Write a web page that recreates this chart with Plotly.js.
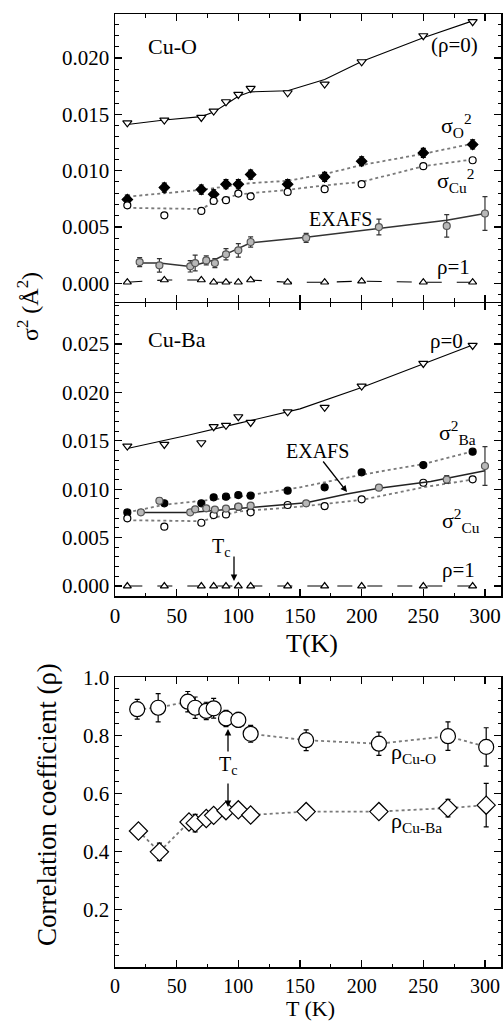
<!DOCTYPE html>
<html><head><meta charset="utf-8">
<script src="https://cdn.plot.ly/plotly-3.0.1.min.js"></script>
<style>html,body{margin:0;padding:0;background:#fff}#chart{width:503px;height:1021px}</style>
</head><body><div id="chart"></div>
<script>
// ---------- DATA ----------
// Temperatures (K) of the model points in both upper panels
const T_model = [10, 40, 70, 80, 90, 100, 110, 140, 170, 200, 250, 290];

// Cu-O panel
const cuo_rho0 = [0.01425, 0.01449, 0.01473, 0.01529, 0.01612, 0.01677, 0.0173, 0.01692, 0.01769, 0.01967, 0.02198, 0.02323];
const cuo_rho0_fitT = [10, 40, 70, 80, 90, 100, 110, 140, 170, 200, 250, 290];
const cuo_rho0_fit = [0.0141, 0.0145, 0.0148, 0.0152, 0.0159, 0.0166, 0.0170, 0.0171, 0.0181, 0.0197, 0.0218, 0.0233];
const cuo_sigO = [0.00744, 0.0085, 0.00833, 0.00791, 0.0088, 0.0088, 0.00966, 0.0088, 0.00945, 0.01084, 0.01158, 0.01233];
const cuo_sigO_err = [0.0004, 0.0004, 0.0004, 0.0004, 0.0004, 0.0004, 0.0004, 0.0004, 0.0004, 0.0004, 0.0004, 0.0004];
const cuo_sigO_fitT = [10, 70, 110, 140, 170, 200, 250, 290];
const cuo_sigO_fit = [0.0077, 0.0083, 0.0089, 0.0091, 0.0097, 0.0105, 0.0115, 0.0124];
const cuo_sigCu = [0.00693, 0.00604, 0.00643, 0.00732, 0.00738, 0.00797, 0.00773, 0.00812, 0.00836, 0.0088, 0.0104, 0.01093];
const cuo_sigCu_fitT = [10, 70, 80, 100, 110, 140, 170, 200, 250, 290];
const cuo_sigCu_fit = [0.0067, 0.0066, 0.0072, 0.0079, 0.0080, 0.0083, 0.0087, 0.0090, 0.0104, 0.0110];
const cuo_exafsT = [20, 36, 61, 65, 74, 81, 90, 100, 110, 155, 214, 269, 300];
const cuo_exafs = [0.00189, 0.0016, 0.00151, 0.0018, 0.00204, 0.0018, 0.00258, 0.00293, 0.00367, 0.00403, 0.005, 0.0051, 0.0062];
const cuo_exafs_err = [0.0004, 0.0006, 0.0005, 0.0007, 0.0004, 0.0004, 0.0005, 0.0006, 0.00045, 0.0004, 0.0007, 0.001, 0.0015];
const cuo_exafs_fitT = [20, 36, 61, 81, 90, 100, 110, 155, 214, 269, 300];
const cuo_exafs_fit = [0.0018, 0.0018, 0.0015, 0.0021, 0.0026, 0.0031, 0.0036, 0.0041, 0.0049, 0.0056, 0.0062];
const cuo_rho1 = [0.0001, 0.0003, 0.0003, 0.0001, 0.0001, 0.0001, 0.0003, 0.0001, 0.0001, 0.0002, 0.0001, 0.0001];

// Cu-Ba panel
const cuba_rho0 = [0.01446, 0.01463, 0.0148, 0.01646, 0.0166, 0.01749, 0.0169, 0.018, 0.01846, 0.02066, 0.023, 0.02486];
const cuba_rho0_fitT = [10, 60, 100, 150, 200, 250, 290];
const cuba_rho0_fit = [0.0142, 0.0156, 0.0168, 0.0183, 0.0205, 0.0229, 0.0249];
const cuba_sigBa = [0.0076, 0.00854, 0.00854, 0.00916, 0.00923, 0.0094, 0.00933, 0.00985, 0.0102, 0.01175, 0.0125, 0.01388];
const cuba_sigBa_fitT = [10, 40, 100, 150, 200, 250, 290];
const cuba_sigBa_fit = [0.0076, 0.0084, 0.0092, 0.0102, 0.0115, 0.0126, 0.0139];
const cuba_sigCu = [0.00699, 0.00613, 0.00654, 0.00733, 0.0074, 0.00819, 0.00761, 0.00837, 0.00826, 0.00896, 0.01067, 0.01102];
const cuba_sigCu_fitT = [10, 70, 100, 150, 200, 250, 290];
const cuba_sigCu_fit = [0.0068, 0.0067, 0.0077, 0.0082, 0.0089, 0.0102, 0.0110];
const cuba_exafsT = [21, 36, 61, 65, 74, 81, 90, 100, 110, 155, 214, 269, 300];
const cuba_exafs = [0.00761, 0.00881, 0.00761, 0.00792, 0.00803, 0.0079, 0.008, 0.0082, 0.0083, 0.00854, 0.01016, 0.011, 0.0124];
const cuba_exafs_err = [0.0002, 0.0003, 0.0002, 0.0002, 0.0002, 0.0002, 0.0002, 0.0002, 0.0002, 0.0002, 0.0002, 0.0004, 0.002];
const cuba_exafs_fitT = [21, 61, 100, 155, 188, 214, 256, 300];
const cuba_exafs_fit = [0.0076, 0.0076, 0.0080, 0.0086, 0.0095, 0.0101, 0.0108, 0.0119];
const cuba_rho1 = [0, 0, 0, 0, 0, 0, 0, 0, 0, 0, 0, 0];

// Correlation coefficient panel
const rhoCuO_T = [18, 35, 59, 65, 74, 80, 90, 100, 110, 155, 214, 270, 301];
const rhoCuO = [0.89, 0.895, 0.916, 0.895, 0.884, 0.893, 0.858, 0.853, 0.805, 0.783, 0.771, 0.797, 0.76];
const rhoCuO_err = [0.034, 0.049, 0.035, 0.037, 0.03, 0.034, 0.028, 0.026, 0.029, 0.036, 0.04, 0.049, 0.066];
const rhoCuBa_T = [19, 36, 60, 65, 74, 80, 90, 100, 110, 155, 214, 270, 301];
const rhoCuBa = [0.47, 0.398, 0.501, 0.497, 0.513, 0.524, 0.54, 0.543, 0.525, 0.537, 0.537, 0.549, 0.559];
const rhoCuBa_err = [0.02, 0.03, 0.02, 0.03, 0.015, 0.015, 0.012, 0.012, 0.012, 0.012, 0.012, 0.03, 0.075];

const xTickVals = [0, 50, 100, 150, 200, 250, 300];
const rhoTickVals = [0.2, 0.4, 0.6, 0.8, 1.0];

// ---------- STYLE ----------
const FONT = 'Liberation Serif, "Times New Roman", serif';
const BLACK = '#000';
const DOT = '#7a7a7a';

function ln(x, y, xa, ya, color, dash, width) {
  return {x, y, xaxis: xa, yaxis: ya, mode: 'lines', line: {color, dash, width}, hoverinfo: 'skip', showlegend: false};
}
function mk(x, y, xa, ya, symbol, size, fill, lineColor, err, errColor) {
  const t = {x, y, xaxis: xa, yaxis: ya, mode: 'markers', showlegend: false,
    marker: {symbol, size, color: fill, line: {color: lineColor, width: 1.2}}};
  if (err) t.error_y = {type: 'data', array: err, visible: true, color: errColor || BLACK, thickness: 1.2, width: 2.5};
  return t;
}

const traces = [
  // Cu-O
  ln(cuo_rho0_fitT, cuo_rho0_fit, 'x3', 'y', BLACK, 'solid', 1.1),
  mk(T_model, cuo_rho0, 'x3', 'y', 'triangle-down', 8, '#fff', BLACK),
  ln(cuo_sigO_fitT, cuo_sigO_fit, 'x3', 'y', DOT, 'dot', 1.8),
  mk(T_model, cuo_sigO, 'x3', 'y', 'diamond', 8, BLACK, BLACK, cuo_sigO_err),
  ln(cuo_sigCu_fitT, cuo_sigCu_fit, 'x3', 'y', DOT, 'dot', 1.8),
  mk(T_model, cuo_sigCu, 'x3', 'y', 'circle', 7, '#fff', BLACK),
  ln(cuo_exafs_fitT, cuo_exafs_fit, 'x3', 'y', '#333', 'solid', 1.5),
  mk(cuo_exafsT, cuo_exafs, 'x3', 'y', 'circle', 7, '#b8b8b8', '#555', cuo_exafs_err, '#333'),
  ln(T_model, cuo_rho1, 'x3', 'y', BLACK, 'longdash', 1.1),
  mk(T_model, cuo_rho1, 'x3', 'y', 'triangle-up', 7, '#fff', BLACK),
  // Cu-Ba
  ln(cuba_rho0_fitT, cuba_rho0_fit, 'x', 'y3', BLACK, 'solid', 1.1),
  mk(T_model, cuba_rho0, 'x', 'y3', 'triangle-down', 8, '#fff', BLACK),
  ln(cuba_sigBa_fitT, cuba_sigBa_fit, 'x', 'y3', DOT, 'dot', 1.8),
  mk(T_model, cuba_sigBa, 'x', 'y3', 'circle', 7, BLACK, BLACK),
  ln(cuba_sigCu_fitT, cuba_sigCu_fit, 'x', 'y3', DOT, 'dot', 1.8),
  mk(T_model, cuba_sigCu, 'x', 'y3', 'circle', 7, '#fff', BLACK),
  ln(cuba_exafs_fitT, cuba_exafs_fit, 'x', 'y3', '#222', 'solid', 1.5),
  mk(cuba_exafsT, cuba_exafs, 'x', 'y3', 'circle', 7, '#b8b8b8', '#555', cuba_exafs_err, '#333'),
  ln(T_model, cuba_rho1, 'x', 'y3', BLACK, 'longdash', 1.1),
  mk(T_model, cuba_rho1, 'x', 'y3', 'triangle-up', 7, '#fff', BLACK),
  // correlation
  ln(rhoCuO_T, rhoCuO, 'x2', 'y2', DOT, 'dot', 1.8),
  mk(rhoCuO_T, rhoCuO, 'x2', 'y2', 'circle', 15, '#fff', BLACK, rhoCuO_err),
  ln(rhoCuBa_T, rhoCuBa, 'x2', 'y2', DOT, 'dot', 1.8),
  mk(rhoCuBa_T, rhoCuBa, 'x2', 'y2', 'diamond', 14, '#fff', BLACK, rhoCuBa_err),
];

function minorAx(dtick) {
  return {ticks: 'inside', ticklen: 3.5, tickwidth: 1, tickcolor: BLACK, dtick, tick0: 0, showgrid: false};
}
function axisBase(extra) {
  return Object.assign({
    showline: true, linecolor: BLACK, linewidth: 1.5, mirror: 'ticks',
    ticks: 'inside', ticklen: 7, tickwidth: 1.2, tickcolor: BLACK,
    showgrid: false, zeroline: false,
    tickfont: {family: FONT, size: 21, color: BLACK}
  }, extra);
}

// pixel -> paper helpers (plot area: x 115..501, y 14..967)
const L = 115, R = 2, TOP = 14, B = 54, W = 503, H = 1021;
const PW = W - L - R, PH = H - TOP - B;
const px = x => (x - L) / PW;
const py = y => (H - B - y) / PH;

function txt(text, x, y, size, extra) {
  return Object.assign({text, xref: 'paper', yref: 'paper', x: px(x), y: py(y), showarrow: false,
    xanchor: 'center', yanchor: 'middle', borderpad: 0, font: {family: FONT, size, color: BLACK}}, extra || {});
}
function arrow(x, y, ax, ay) {
  return {text: '', xref: 'paper', yref: 'paper', x: px(x), y: py(y), showarrow: true,
    ax, ay, arrowhead: 2, arrowsize: 1, arrowwidth: 1.3, arrowcolor: BLACK};
}

const annotations = [
  txt('Cu-O', 172, 47, 22),
  txt('(ρ=0)', 454, 45, 21),
  txt('σ<sub>O</sub><sup>2</sup>', 456, 125, 22),
  txt('σ<sub>Cu</sub><sup>2</sup>', 456, 180, 22),
  txt('EXAFS', 340, 219, 20),
  txt('ρ=1', 453, 267, 21),
  txt('Cu-Ba', 177, 339, 22),
  txt('ρ=0', 446, 341, 21),
  txt('σ<sup>2</sup><sub>Ba</sub>', 457, 433, 22),
  txt('EXAFS', 317, 451, 20),
  arrow(347, 492, -25, -32),
  txt('σ<sup>2</sup><sub>Cu</sub>', 461, 520, 22),
  txt('ρ=1', 458, 570, 21),
  txt('T<sub>c</sub>', 221, 548, 20),
  arrow(234, 581, 0, -26),
  txt('T(K)', 312, 643, 26),
  txt('ρ<sub>Cu-O</sub>', 413, 753, 22),
  txt('ρ<sub>Cu-Ba</sub>', 416, 822, 22),
  txt('T<sub>c</sub>', 228, 765, 20),
  arrow(228, 729, 0, 24),
  arrow(228, 807, 0, -25),
  txt('T (K)', 310, 1008, 22),
  txt('σ<sup>2</sup> (Å<sup>2</sup>)', 28, 307, 24, {textangle: -90}),
  txt('Correlation coefficient (ρ)', 47, 805, 27, {textangle: -90}),
];

const layout = {
  width: W, height: H,
  margin: {l: L, r: R, t: TOP, b: B, pad: 0},
  paper_bgcolor: '#fff', plot_bgcolor: '#fff',
  showlegend: false,
  font: {family: FONT, color: BLACK},
  xaxis: axisBase({domain: [0, 1], range: [0, 313], anchor: 'y3', tickmode: 'array', tickvals: xTickVals, minor: minorAx(25)}),
  xaxis3: axisBase({domain: [0, 1], range: [0, 313], anchor: 'y', showticklabels: false, dtick: 50, tick0: 0, minor: minorAx(25)}),
  xaxis2: axisBase({domain: [0, 1], range: [0, 313], anchor: 'y2', tickmode: 'array', tickvals: xTickVals, minor: minorAx(25),
    tickfont: {family: FONT, size: 20, color: BLACK}}),
  yaxis: axisBase({domain: [py(301.5), 1], range: [-0.00161, 0.02391], anchor: 'x3', dtick: 0.005, tick0: 0, tickformat: '.3f', minor: minorAx(0.001)}),
  yaxis3: axisBase({domain: [py(596), py(303)], range: [-0.00103, 0.02924], anchor: 'x', dtick: 0.005, tick0: 0, tickformat: '.3f', minor: minorAx(0.001)}),
  yaxis2: axisBase({domain: [0, py(677)], range: [0.001, 1.001], anchor: 'x2', tickmode: 'array', tickvals: rhoTickVals, tickformat: '.1f', minor: minorAx(0.04)}),
  annotations
};

Plotly.newPlot('chart', traces, layout, {staticPlot: true, displayModeBar: false});
</script></body></html>
